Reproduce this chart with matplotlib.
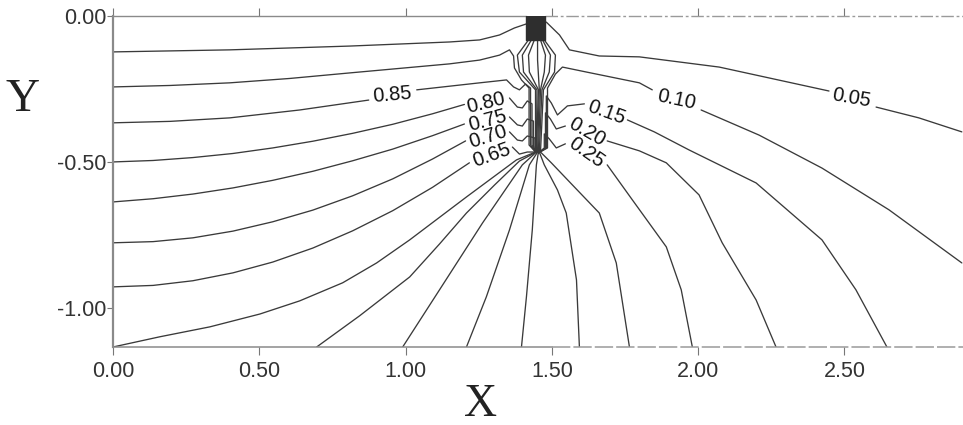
import matplotlib
matplotlib.use("Agg")
import matplotlib.pyplot as plt
import numpy as np

plt.rcParams['font.family'] = ['Liberation Sans', 'DejaVu Sans']
nan = np.nan

# ---- contour levels (equipotentials); nan = gap for label ----
x_095 = [0.000, 0.399, 0.809, 1.150, 1.253, 1.321, 1.372, 1.413]
y_095 = [-0.123, -0.116, -0.103, -0.089, -0.082, -0.065, -0.041, -0.027]

x_090 = [0.000, 0.195, 0.399, 0.604, 0.809, 1.150, 1.253, 1.321, 1.355, 1.369, 1.372, 1.396, 1.422, 1.422, 1.444]
y_090 = [-0.243, -0.238, -0.229, -0.214, -0.195, -0.164, -0.151, -0.134, -0.116, -0.137, -0.178, -0.219, -0.247, -0.442, -0.466]

x_085 = [0.000, 0.195, 0.399, 0.638, 0.874, nan, 1.038, 1.253, 1.345, 1.369, 1.389, 1.410, 1.427, 1.427, 1.444]
y_085 = [-0.366, -0.361, -0.349, -0.322, -0.288, nan, -0.253, -0.229, -0.219, -0.243, -0.253, -0.233, -0.247, -0.442, -0.466]

x_080 = [0.000, 0.137, 0.273, 0.410, 0.546, 0.683, 0.819, 0.956, 1.092, 1.201, nan,
         1.355, 1.382, 1.399, 1.416, 1.432, 1.432, 1.444]
y_080 = [-0.500, -0.495, -0.485, -0.471, -0.452, -0.429, -0.402, -0.371, -0.335, -0.303, nan,
         -0.281, -0.312, -0.315, -0.291, -0.301, -0.442, -0.466]

x_075 = [0.000, 0.137, 0.273, 0.410, 0.546, 0.683, 0.819, 0.956, 1.092, 1.201, nan,
         1.355, 1.382, 1.399, 1.416, 1.437, 1.437, 1.444]
y_075 = [-0.637, -0.626, -0.610, -0.589, -0.563, -0.532, -0.496, -0.456, -0.410, -0.370, nan,
         -0.346, -0.373, -0.377, -0.353, -0.360, -0.445, -0.466]

x_070 = [0.000, 0.137, 0.273, 0.410, 0.546, 0.683, 0.819, 0.956, 1.092, 1.205, nan,
         1.355, 1.382, 1.399, 1.416, 1.442, 1.442, 1.447]
y_070 = [-0.777, -0.773, -0.760, -0.737, -0.705, -0.665, -0.616, -0.558, -0.490, -0.428, nan,
         -0.397, -0.425, -0.428, -0.411, -0.418, -0.449, -0.466]

x_065 = [0.000, 0.137, 0.273, 0.410, 0.546, 0.683, 0.819, 0.956, 1.092, 1.218, nan,
         1.365, 1.389, 1.416, 1.447]
y_065 = [-0.928, -0.923, -0.907, -0.880, -0.843, -0.795, -0.736, -0.667, -0.587, -0.503, nan,
         -0.449, -0.473, -0.466, -0.466]

x_060 = [0.000, 0.160, 0.331, 0.502, 0.638, 0.785, 0.901, 1.014, 1.208, 1.379, 1.444,
         1.444, 1.389, 1.382, 1.420]
y_060 = [-1.134, -1.099, -1.065, -1.021, -0.976, -0.914, -0.846, -0.767, -0.620, -0.493, -0.466,
         -0.253, -0.192, -0.134, -0.082]

x_055 = [0.696, 0.843, 1.014, 1.116, 1.208, 1.304, 1.389, 1.447, 1.449, 1.403, 1.399, 1.430]
y_055 = [-1.134, -1.027, -0.894, -0.781, -0.675, -0.579, -0.497, -0.466, -0.253, -0.192, -0.134, -0.082]

x_050 = [0.990, 1.116, 1.263, 1.399, 1.447, 1.454, 1.423, 1.420, 1.440]
y_050 = [-1.134, -0.938, -0.709, -0.510, -0.466, -0.253, -0.192, -0.134, -0.082]

x_045 = [1.208, 1.276, 1.355, 1.423, 1.451, 1.457, 1.451, 1.451]
y_045 = [-1.134, -0.962, -0.733, -0.510, -0.466, -0.253, -0.151, -0.082]

x_040 = [1.396, 1.413, 1.433, 1.447, 1.454, 1.461, 1.474, 1.478, 1.461]
y_040 = [-1.134, -0.962, -0.733, -0.510, -0.466, -0.253, -0.192, -0.134, -0.082]

x_035 = [1.594, 1.584, 1.549, 1.519, 1.474, 1.457, 1.466, 1.491, 1.495, 1.468]
y_035 = [-1.134, -0.904, -0.675, -0.596, -0.510, -0.466, -0.253, -0.192, -0.134, -0.082]

x_030 = [1.765, 1.720, 1.662, 1.577, 1.498, 1.461, 1.471, 1.509, 1.512, 1.474]
y_030 = [-1.134, -0.846, -0.675, -0.586, -0.503, -0.466, -0.253, -0.192, -0.134, -0.082]

x_025 = [1.980, 1.942, 1.891, 1.775, 1.689, nan, 1.546, 1.515, 1.491, 1.474, 1.474, 1.454]
y_025 = [-1.134, -0.938, -0.791, -0.630, -0.510, nan, -0.438, -0.452, -0.421, -0.404, -0.452, -0.469]

x_020 = [2.266, 2.198, 2.082, 2.003, 1.891, 1.799, 1.689, nan, 1.546, 1.515, 1.495, 1.478, 1.478, 1.454]
y_020 = [-1.134, -0.973, -0.777, -0.613, -0.503, -0.462, -0.428, nan, -0.377, -0.387, -0.353, -0.332, -0.452, -0.469]

x_015 = [2.645, 2.539, 2.423, 2.198, 1.969, 1.850, 1.758, nan, 1.611, 1.553, 1.519, 1.498, 1.481, 1.481, 1.454]
y_015 = [-1.134, -0.938, -0.767, -0.572, -0.459, -0.397, -0.356, nan, -0.301, -0.308, -0.339, -0.298, -0.274, -0.452, -0.469]

x_010 = [2.901, 2.652, 2.423, 2.208, 2.010, nan, 1.843, 1.799, 1.618, 1.536, 1.512, 1.485, 1.485, 1.454]
y_010 = [-0.846, -0.664, -0.521, -0.408, -0.322, nan, -0.253, -0.229, -0.192, -0.175, -0.199, -0.247, -0.452, -0.469]

x_005 = [2.901, 2.754, 2.608, nan, 2.447, 2.072, 1.799, 1.662, 1.560, 1.526, 1.481]
y_005 = [-0.397, -0.349, -0.312, nan, -0.257, -0.175, -0.140, -0.137, -0.116, -0.065, -0.021]

levels = [0.95, 0.90, 0.85, 0.80, 0.75, 0.70, 0.65, 0.60, 0.55, 0.50,
          0.45, 0.40, 0.35, 0.30, 0.25, 0.20, 0.15, 0.10, 0.05]
xs_all = [x_095, x_090, x_085, x_080, x_075, x_070, x_065, x_060, x_055, x_050,
          x_045, x_040, x_035, x_030, x_025, x_020, x_015, x_010, x_005]
ys_all = [y_095, y_090, y_085, y_080, y_075, y_070, y_065, y_060, y_055, y_050,
          y_045, y_040, y_035, y_030, y_025, y_020, y_015, y_010, y_005]

labelled = [0.85, 0.80, 0.75, 0.70, 0.65, 0.15, 0.20, 0.25, 0.10, 0.05]

# pile (cut-off wall) head
pile_x = [1.413, 1.478]
pile_y = [-0.082, 0.0]

x_max, y_min = 2.905, -1.134
xticks = [0.0, 0.5, 1.0, 1.5, 2.0, 2.5]
xtick_labels = ['0.00', '0.50', '1.00', '1.50', '2.00', '2.50']
yticks = [0.0, -0.5, -1.0]
ytick_labels = ['0.00', '-0.50', '-1.00']

# ---------------- drawing ----------------
W, H = 963, 425
fig = plt.figure(figsize=(W / 100, H / 100), dpi=100)
ax = fig.add_axes([113 / W, 78 / H, 850 / W, 331 / H])
ax.set_xlim(0, x_max)
ax.set_ylim(y_min, 0.0)

line_col = '#3a3a3a'
for xs, ys in zip(xs_all, ys_all):
    ax.plot(xs, ys, color=line_col, lw=0.95, solid_joinstyle='round', solid_capstyle='round')

ax.fill_between(pile_x, pile_y[0], pile_y[1], color='#2e2e2e', zorder=3)

# label placements (x, y, rotation) for labelled levels
spots = {0.85: (0.956, -0.271, 5), 0.80: (1.276, -0.298, 14), 0.75: (1.280, -0.360, 15),
         0.70: (1.283, -0.414, 18), 0.65: (1.294, -0.476, 20), 0.15: (1.686, -0.329, -20),
         0.20: (1.618, -0.397, -30), 0.25: (1.618, -0.469, -35), 0.10: (1.925, -0.288, -12),
         0.05: (2.522, -0.281, -10)}
for lv in labelled:
    x, y, r = spots[lv]
    ax.text(x, y, f'{lv:.2f}', ha='center', va='center', rotation=r,
            fontsize=14.5, color='#111111', rotation_mode='anchor')

# frame: solid on the left part, broken (as in the scan) on the right part
frame_col = '#8a8a8a'
for s in ['top', 'bottom', 'right']:
    ax.spines[s].set_visible(False)
ax.spines['left'].set_color(frame_col)
ax.spines['left'].set_linewidth(1.6)
ax.plot([0, pile_x[0]], [0, 0], color=frame_col, lw=1.0, clip_on=False, zorder=2)
ax.plot([pile_x[1], x_max], [0, 0], color='#9a9a9a', lw=1.0, clip_on=False,
        dashes=(9, 2, 2, 2), zorder=2)
ax.plot([0, 1.5], [y_min, y_min], color=frame_col, lw=1.1, clip_on=False, zorder=2)
ax.plot([1.5, x_max], [y_min, y_min], color='#9a9a9a', lw=1.1, clip_on=False,
        dashes=(12, 2), zorder=2)

ax.set_xticks(xticks)
ax.set_xticklabels(xtick_labels)
ax.set_yticks(yticks)
ax.set_yticklabels(ytick_labels)
ax.tick_params(axis='x', top=True, direction='out', length=6, width=0.8, color='#777777',
               labelsize=15.5, labelcolor='#333333', pad=4)
ax.tick_params(axis='y', direction='out', length=4, width=0.8, color='#777777',
               labelsize=15.5, labelcolor='#333333', pad=1)

fig.text(481 / W, 9 / H, 'X', family='Liberation Serif', fontsize=33,
         ha='center', va='baseline', color='#222222')
fig.text(23 / W, 1 - 100 / H, 'Y', family='Liberation Serif', fontsize=34,
         ha='center', va='center', color='#222222')

fig.savefig('out.png', dpi=100, facecolor='white')
